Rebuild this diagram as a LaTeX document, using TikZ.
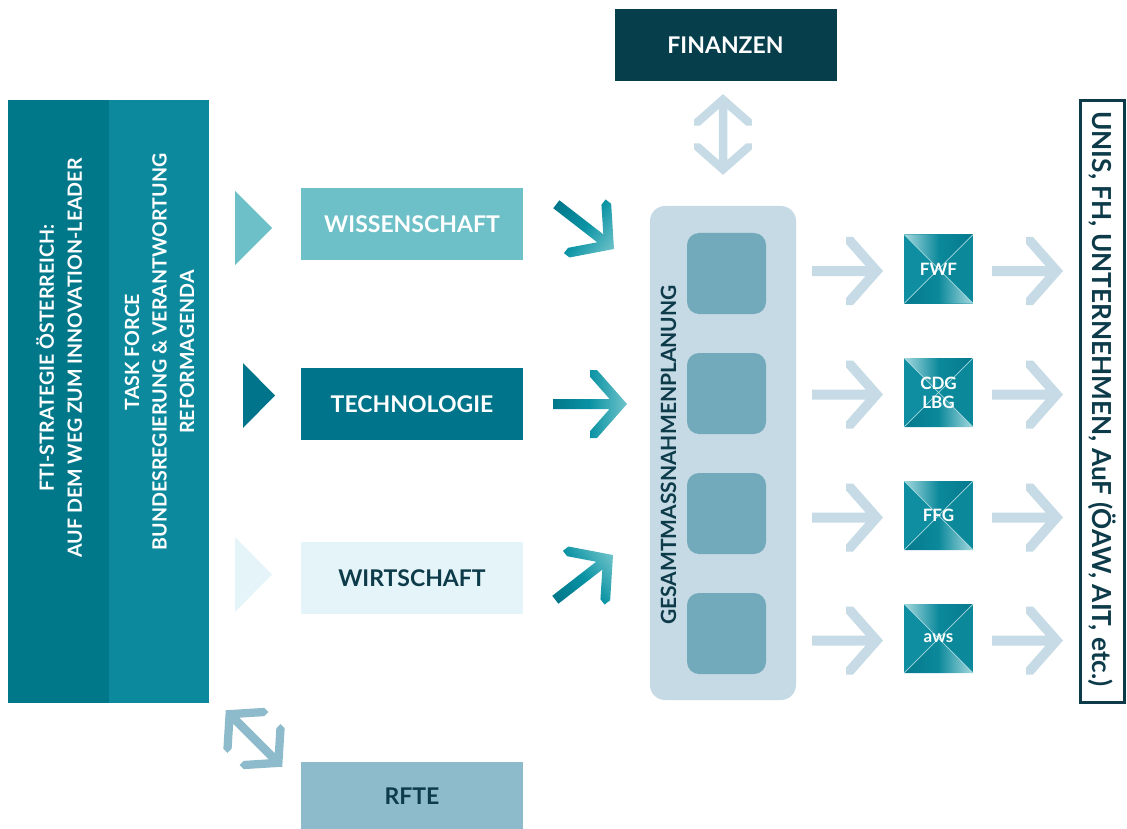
\documentclass[tikz,border=0pt]{standalone}
\usepackage{fontspec}
\setmainfont{Lato}
\definecolor{barA}{HTML}{00788A}
\definecolor{barB}{HTML}{0C899C}
\definecolor{wiss}{HTML}{6DC0C7}
\definecolor{tech}{HTML}{00748A}
\definecolor{wirt}{HTML}{E4F4F8}
\definecolor{rfte}{HTML}{8EBBCB}
\definecolor{fin}{HTML}{063E4C}
\definecolor{cbox}{HTML}{C6DAE5}
\definecolor{csq}{HTML}{72AABB}
\definecolor{arrlight}{HTML}{C6DBE6}
\definecolor{darktxt}{HTML}{0D3B4A}
\definecolor{gdark}{HTML}{00778A}
\definecolor{gmid}{HTML}{0A93A4}
\definecolor{glight}{HTML}{70C3CA}
\definecolor{aglight}{HTML}{A6D9DF}
\definecolor{agdark}{HTML}{06798D}
\definecolor{agmid}{HTML}{0B899B}
\definecolor{agleft}{HTML}{0E8EA0}
\begin{document}
\begin{tikzpicture}[x=1pt,y=-1pt,
  pics/chev/.style={code={
    \path[pic actions] (0,0) -- (-30,34) -- (-37,34) -- (-37,27.2) -- (-17.4,5) -- (-#1,5)
      -- (-#1,-5) -- (-17.4,-5) -- (-37,-27.2) -- (-37,-34) -- (-30,-34) -- cycle;}},
  pics/dchev/.style={code={
    \path[pic actions] ({#1/2},0) -- ({#1/2-30},34) -- ({#1/2-37},34) -- ({#1/2-37},27.2) -- ({#1/2-17.4},5)
      -- ({-#1/2+17.4},5) -- ({-#1/2+37},27.2) -- ({-#1/2+37},34) -- ({-#1/2+30},34) -- ({-#1/2},0)
      -- ({-#1/2+30},-34) -- ({-#1/2+37},-34) -- ({-#1/2+37},-27.2) -- ({-#1/2+17.4},-5)
      -- ({#1/2-17.4},-5) -- ({#1/2-37},-27.2) -- ({#1/2-37},-34) -- ({#1/2-30},-34) -- cycle;}},
  bar/.style={inner sep=0, minimum width=100.5, minimum height=603},
  bartext/.style={rotate=90, align=center, text=white, font=\fontsize{19.6}{28}\selectfont\bfseries},
  field/.style={inner sep=0, minimum width=222, minimum height=72, font=\fontsize{23}{25}\selectfont\bfseries},
  agency/.style={inner sep=0, minimum size=69, fill=agmid, text=white, align=center,
    font=\fontsize{17}{19}\selectfont\bfseries,
    path picture={
      \shade[left color=aglight, right color=agdark, middle color=agmid]
        (path picture bounding box.north west) -- (path picture bounding box.north east)
        -- (path picture bounding box.center) -- cycle;
      \shade[left color=agdark, right color=aglight, middle color=agmid]
        (path picture bounding box.south west) -- (path picture bounding box.south east)
        -- (path picture bounding box.center) -- cycle;
      \fill[agleft] (path picture bounding box.north west) -- (path picture bounding box.south west)
        -- (path picture bounding box.center) -- cycle;
      \draw[aglight, line width=0.7]
        (path picture bounding box.north west) -- (path picture bounding box.south east)
        (path picture bounding box.north east) -- (path picture bounding box.south west);
    }},
  innersq/.style={fill=csq, rounded corners=12, minimum width=79, minimum height=81, inner sep=0}
]
\useasboundingbox (0,0) rectangle (1127,829);
\fill[white] (0,0) rectangle (1127,829);

% left bars
\node[bar, fill=barA] (barA) at (58.25,401.5) {};
\node[bar, fill=barB] (barB) at (158.75,401.5) {};
\node[bartext] (tA) at (59,358) {FTI-STRATEGIE ÖSTERREICH:\\AUF DEM WEG ZUM INNOVATION-LEADER};
\node[bartext, font=\fontsize{19.6}{27.5}\selectfont\bfseries] (tB) at (159.5,352) {TASK FORCE\\BUNDESREGIERUNG \& VERANTWORTUNG\\REFORMAGENDA};

% pointer triangles
\fill[wiss] (235,191) -- (272,228) -- (235,265) -- cycle;
\fill[tech] (243,363) -- (275,395.5) -- (243,428) -- cycle;
\fill[wirt] (235,537) -- (272,574.5) -- (235,612) -- cycle;

% field boxes
\node[field, fill=wiss, text=white] (wi) at (412,224) {WISSENSCHAFT};
\node[field, fill=tech, text=white] (te) at (412,404) {TECHNOLOGIE};
\node[field, fill=wirt, text=darktxt] (wr) at (412,578) {WIRTSCHAFT};
\node[field, fill=rfte, text=darktxt, minimum height=68] (rf) at (412,796) {RFTE};
\node[field, fill=fin, text=white] (fi) at (725.5,45) {FINANZEN};

% central planning box
\node[fill=cbox, rounded corners=15, minimum width=146, minimum height=494, inner sep=0] (gp) at (723,453) {};
\node[innersq] (q1) at (726.5,273.5) {};
\node[innersq] (q2) at (726.5,393.5) {};
\node[innersq] (q3) at (726.5,513.5) {};
\node[innersq] (q4) at (726.5,633.5) {};
\node[rotate=90, text=darktxt, font=\fontsize{21}{23}\selectfont\bfseries] (gpt) at (668.5,455) {GESAMTMASSNAHMENPLANUNG};

% agencies
\node[agency] (fwf) at (938.5,269) {FWF};
\node[agency] (cdg) at (938.5,392.5) {CDG\\LBG};
\node[agency] (ffg) at (938.5,515.5) {FFG};
\node[agency] (aws) at (938.5,638.5) {aws};

% right box
\node[draw=darktxt, line width=3, fill=white, minimum width=44, minimum height=601, inner sep=0] (rb) at (1102,401.5) {};
\node[rotate=-90, text=darktxt, font=\fontsize{26.2}{28}\selectfont\bfseries] (rbt) at (1102,399) {UNIS, FH, UNTERNEHMEN, AuF (ÖAW, AIT, etc.)};

% arrows into planning box
\begin{scope}[transform canvas={shift={(614,249)}, rotate=-37.8}]
  \pic[left color=gdark, right color=glight, middle color=gmid] at (0,0) {chev=73};
\end{scope}
\pic[left color=gdark, right color=glight, middle color=gmid] at (627,404) {chev=74};
\begin{scope}[transform canvas={shift={(613,555)}, rotate=37.8}]
  \pic[left color=gdark, right color=glight, middle color=gmid] at (0,0) {chev=73};
\end{scope}

% light arrows to agencies and to the right box
\foreach \yy in {271,394.5,517.5,640.5}{
  \pic[fill=arrlight] at (883,\yy) {chev=71};
  \pic[fill=arrlight] at (1063,\yy) {chev=71};
}

% double arrows
\pic[fill=arrlight, rotate=90, scale=0.85] at (723,134.5) {dchev=95};
\pic[fill=rfte, rotate=-45, scale=0.85] at (254,738.5) {dchev=94};
\end{tikzpicture}
\end{document}
